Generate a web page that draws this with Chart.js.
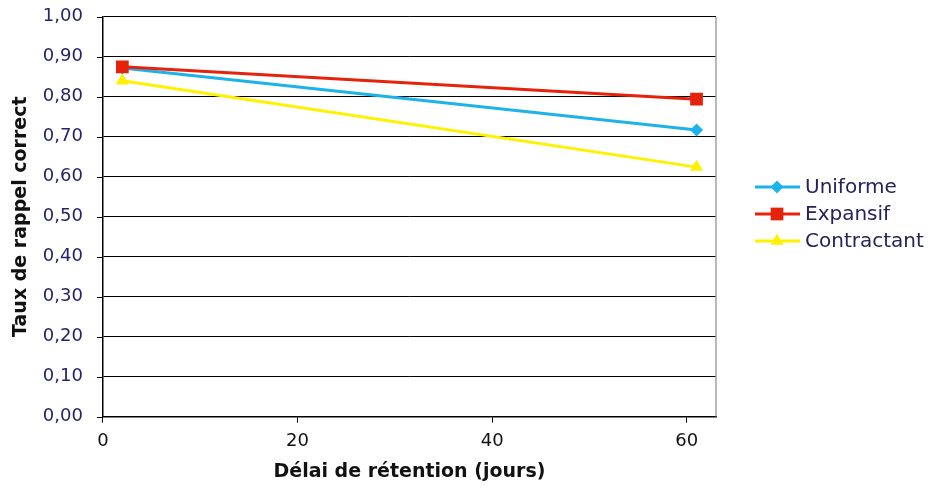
<!DOCTYPE html>
<html>
<head>
<meta charset="utf-8">
<script src="https://cdn.jsdelivr.net/npm/chart.js@4"></script>
<style>
  html, body { margin: 0; padding: 0; background: #fff; }
  canvas { display: block; }
</style>
</head>
<body>
<canvas id="chart" width="934" height="488"></canvas>
<script>
const days = [2, 61];
const uniforme = [0.872, 0.717];
const expansif = [0.875, 0.794];
const contractant = [0.840, 0.624];
const seriesNames = ["Uniforme", "Expansif", "Contractant"];
const xTicks = [0, 20, 40, 60];

const colors = ["#1eb3e8", "#e5230c", "#fff200"];
const markers = ["rectRot", "rect", "triangle"];
const markerSizes = [6.5, 9, 7.5];

function toPoints(values) {
  return days.map((d, i) => ({ x: d, y: values[i] }));
}

// legend drawn by hand so each entry shows a line with its marker
const sideLegend = {
  id: "sideLegend",
  afterDraw(chart) {
    const ctx = chart.ctx;
    const x0 = 755, y0 = 187, gap = 27;
    chart.data.datasets.forEach((ds, i) => {
      const y = y0 + gap * i;
      ctx.save();
      ctx.strokeStyle = ds.borderColor;
      ctx.fillStyle = ds.borderColor;
      ctx.lineWidth = 3;
      ctx.beginPath();
      ctx.moveTo(x0, y);
      ctx.lineTo(x0 + 45, y);
      ctx.stroke();
      Chart.helpers.drawPoint(ctx, {
        pointStyle: ds.pointStyle,
        radius: ds.pointRadius,
        borderWidth: 0
      }, x0 + 22, y);
      ctx.fillStyle = "#23235a";
      ctx.font = "20px 'DejaVu Sans'";
      ctx.textBaseline = "middle";
      ctx.fillText(ds.label, x0 + 50, y + 1);
      ctx.restore();
    });
  }
};

// grey frame on the right, short tick marks on the y axis
const frame = {
  id: "frame",
  afterDatasetsDraw(chart) {
    const a = chart.chartArea, ctx = chart.ctx;
    const yScale = chart.scales.y;
    ctx.save();
    ctx.strokeStyle = "#a0a0a0";
    ctx.lineWidth = 1.5;
    ctx.beginPath();
    ctx.moveTo(a.right, a.top);
    ctx.lineTo(a.right, a.bottom);
    ctx.stroke();
    ctx.strokeStyle = "#000";
    ctx.lineWidth = 1;
    ctx.beginPath();
    yScale.ticks.forEach(t => {
      const y = Math.round(yScale.getPixelForValue(t.value)) + 0.5;
      ctx.moveTo(a.left - 6, y);
      ctx.lineTo(a.left, y);
    });
    ctx.stroke();
    ctx.restore();
  }
};

const ctx = document.getElementById("chart").getContext("2d");

new Chart(ctx, {
  type: "line",
  data: {
    datasets: [uniforme, expansif, contractant].map((vals, i) => ({
      label: seriesNames[i],
      data: toPoints(vals),
      borderColor: colors[i],
      backgroundColor: colors[i],
      pointBackgroundColor: colors[i],
      pointBorderWidth: 0,
      pointStyle: markers[i],
      pointRadius: markerSizes[i],
      borderWidth: 3,
      order: [1, 0, 2][i]
    }))
  },
  options: {
    responsive: false,
    animation: false,
    layout: { padding: { top: 0, right: 218, left: 10, bottom: 5 } },
    plugins: {
      legend: { display: false },
      tooltip: { enabled: false }
    },
    scales: {
      x: {
        type: "linear",
        min: 0,
        max: 63,
        afterBuildTicks: (scale) => { scale.ticks = xTicks.map(v => ({ value: v })); },
        grid: { drawOnChartArea: false, drawTicks: true, tickLength: 6, color: "#000", lineWidth: 1 },
        border: { color: "#000", width: 1.5 },
        ticks: { color: "#111", font: { family: "DejaVu Sans", size: 18 }, padding: 8, maxRotation: 0 },
        title: {
          display: true,
          text: "Délai de rétention (jours)",
          color: "#111",
          font: { family: "DejaVu Sans", size: 19, weight: "bold" },
          padding: { top: 0, bottom: 0 }
        }
      },
      y: {
        min: 0,
        max: 1,
        ticks: {
          stepSize: 0.1,
          color: "#24246a",
          font: { family: "DejaVu Sans", size: 18 },
          padding: 6,
          callback: (v) => v.toFixed(2).replace(".", ",")
        },
        grid: { color: "#000", lineWidth: 1, tickLength: 14, tickColor: "rgba(0,0,0,0)" },
        border: { color: "#000", width: 1.5 },
        title: {
          display: true,
          text: "Taux de rappel correct",
          color: "#111",
          font: { family: "DejaVu Sans", size: 19, weight: "bold" },
          padding: { top: 0, bottom: 4 }
        }
      }
    }
  },
  plugins: [sideLegend, frame]
});
</script>
</body>
</html>
